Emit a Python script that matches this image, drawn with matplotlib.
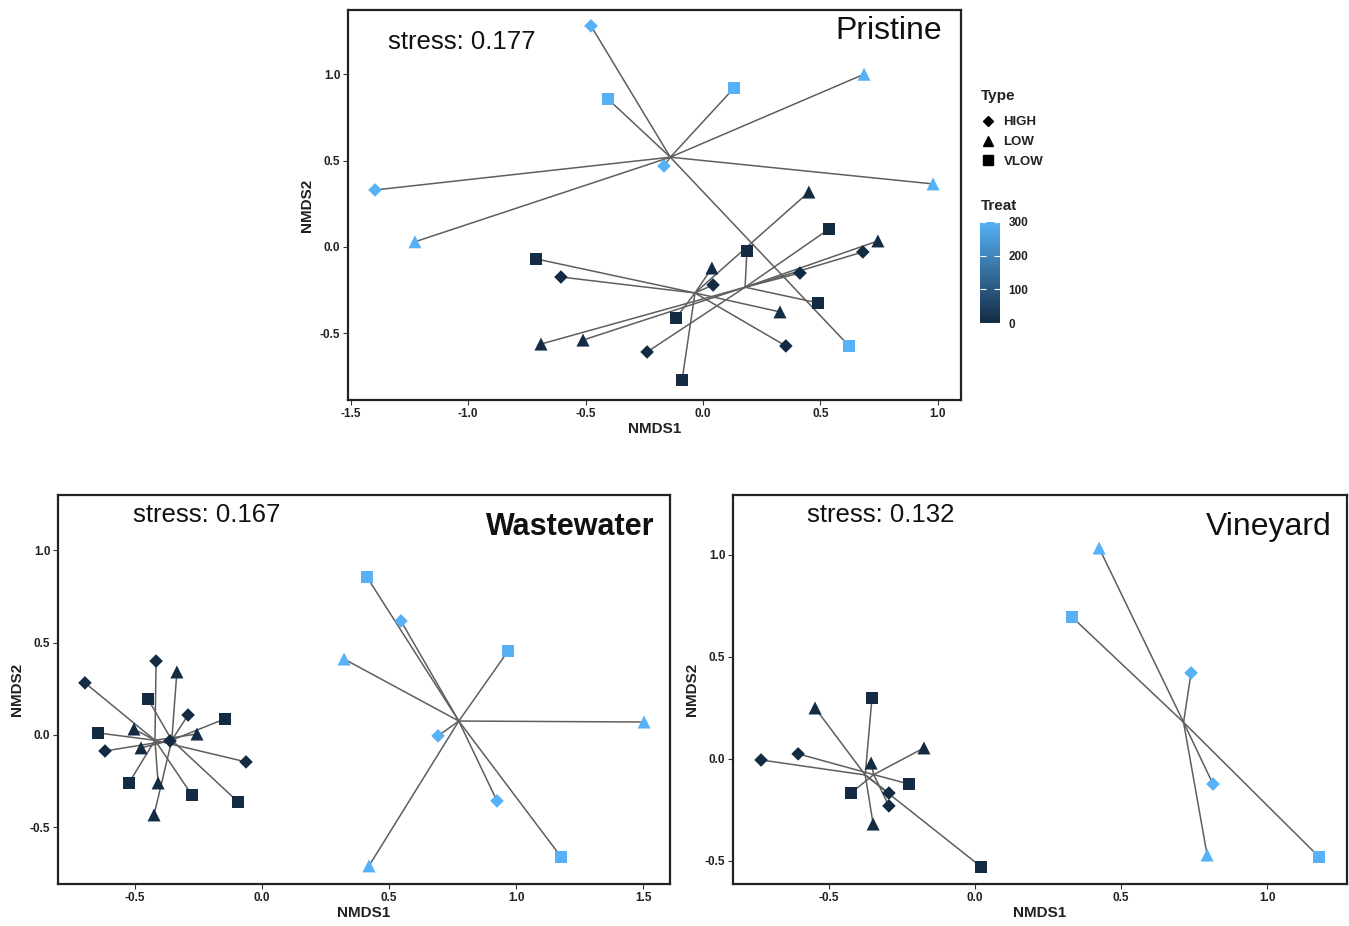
import numpy as np
import matplotlib
matplotlib.use("Agg")
import matplotlib.pyplot as plt
from matplotlib.colors import LinearSegmentedColormap, Normalize
from matplotlib.cm import ScalarMappable
from matplotlib.lines import Line2D

plt.rcParams['font.family'] = ['Liberation Sans', 'DejaVu Sans']

# ---- Pristine ----
pri_x = [-0.477, -0.166, -1.397, 0.686, -1.227, 0.980, -0.405, 0.132, 0.622,
         -0.711, -0.605, 0.451, -0.089, 0.353, -0.115, 0.043, 0.328, 0.038,
         0.187, 0.537, 0.490, 0.681, 0.413, -0.238, 0.745, -0.690, -0.511]
pri_y = [1.280, 0.469, 0.330, 1.000, 0.030, 0.365, 0.857, 0.920, -0.573,
         -0.069, -0.174, 0.318, -0.770, -0.573, -0.411, -0.220, -0.376, -0.122,
         -0.023, 0.104, -0.324, -0.029, -0.151, -0.608, 0.035, -0.562, -0.539]
pri_type = ['HIGH', 'HIGH', 'HIGH', 'LOW', 'LOW', 'LOW', 'VLOW', 'VLOW', 'VLOW',
            'VLOW', 'HIGH', 'LOW', 'VLOW', 'HIGH', 'VLOW', 'HIGH', 'LOW', 'LOW',
            'VLOW', 'VLOW', 'VLOW', 'HIGH', 'HIGH', 'HIGH', 'LOW', 'LOW', 'LOW']
pri_treat = [300] * 9 + [0] * 18
pri_grp = ['C'] * 9 + ['A'] * 9 + ['B'] * 9

# ---- Wastewater ----
ww_x = [0.547, 0.693, 0.925, 0.323, 1.504, 0.421, 0.413, 0.969, 1.177,
        -0.697, -0.417, -0.063, -0.504, -0.256, -0.409, -0.646, -0.524, -0.276,
        -0.291, -0.362, -0.618, -0.335, -0.476, -0.425, -0.449, -0.146, -0.094]
ww_y = [0.617, -0.005, -0.357, 0.411, 0.070, -0.709, 0.855, 0.455, -0.660,
        0.282, 0.400, -0.146, 0.032, 0.005, -0.260, 0.011, -0.260, -0.325,
        0.108, -0.032, -0.087, 0.341, -0.070, -0.433, 0.195, 0.087, -0.363]
ww_type = ['HIGH', 'HIGH', 'HIGH', 'LOW', 'LOW', 'LOW', 'VLOW', 'VLOW', 'VLOW'] * 3
ww_treat = [300] * 9 + [0] * 18
ww_grp = ['C'] * 9 + ['A'] * 9 + ['B'] * 9

# ---- Vineyard ----
vin_x = [0.740, 0.815, 0.425, 0.795, 0.332, 1.178,
         -0.733, -0.295, -0.548, -0.349, -0.353, 0.021,
         -0.606, -0.295, -0.175, -0.356, -0.226, -0.425]
vin_y = [0.422, -0.123, 1.034, -0.471, 0.696, -0.480,
         -0.005, -0.167, 0.250, -0.319, 0.299, -0.529,
         0.025, -0.230, 0.054, -0.020, -0.123, -0.167]
vin_type = ['HIGH', 'HIGH', 'LOW', 'LOW', 'VLOW', 'VLOW'] * 3
vin_treat = [300] * 6 + [0] * 12
vin_grp = ['C'] * 6 + ['A'] * 6 + ['B'] * 6

cmap = LinearSegmentedColormap.from_list('treat', ['#132B43', '#56B1F7'])
norm = Normalize(0, 300)
markers = {'HIGH': ('D', 48), 'LOW': ('^', 88), 'VLOW': ('s', 68)}


def nmds_panel(ax, x, y, typ, treat, grp, xlim, ylim, xticks, yticks,
               stress, site, site_weight, stress_xy, site_xy):
    x = np.array(x)
    y = np.array(y)
    typ = np.array(typ)
    treat = np.array(treat)
    grp = np.array(grp)
    for g in np.unique(grp):
        m = grp == g
        cx, cy = x[m].mean(), y[m].mean()
        for xi, yi in zip(x[m], y[m]):
            ax.plot([cx, xi], [cy, yi], color='#5e5e5e', lw=1.1, zorder=1)
    for t, (mk, s) in markers.items():
        m = typ == t
        ax.scatter(x[m], y[m], c=treat[m], cmap=cmap, norm=norm, marker=mk,
                   s=s, linewidths=0, zorder=2)
    ax.set_xlim(*xlim)
    ax.set_ylim(*ylim)
    ax.set_xticks(xticks)
    ax.set_yticks(yticks)
    ax.set_xticklabels(['%.1f' % v for v in xticks])
    ax.set_yticklabels(['%.1f' % v for v in yticks])
    ax.tick_params(labelsize=8.5, length=3.5, width=0.8, color='#333333', pad=2)
    for lab in ax.get_xticklabels() + ax.get_yticklabels():
        lab.set_fontweight('bold')
        lab.set_color('#222222')
    for sp in ax.spines.values():
        sp.set_linewidth(1.6)
        sp.set_color('#222222')
    ax.set_xlabel('NMDS1', fontsize=11, fontweight='bold', labelpad=2, color='#222222')
    ax.set_ylabel('NMDS2', fontsize=11, fontweight='bold', labelpad=4, color='#222222')
    ax.text(stress_xy[0], stress_xy[1], stress, transform=ax.transAxes,
            fontsize=18.5, ha='left', va='center', color='#111111')
    ax.text(site_xy[0], site_xy[1], site, transform=ax.transAxes,
            fontsize=23 if site_weight == 'normal' else 22, fontweight=site_weight,
            ha='right', va='center', color='#111111')


fig = plt.figure(figsize=(13.49, 9.26), dpi=100)

ax1 = fig.add_axes([348 / 1349, 1 - 400 / 926, 613 / 1349, 390 / 926])
nmds_panel(ax1, pri_x, pri_y, pri_type, pri_treat, pri_grp,
           (-1.512, 1.099), (-0.886, 1.372),
           [-1.5, -1.0, -0.5, 0.0, 0.5, 1.0], [-0.5, 0.0, 0.5, 1.0],
           'stress: 0.177', 'Pristine', 'normal', (0.065, 0.918), (0.969, 0.946))

ax2 = fig.add_axes([58 / 1349, 1 - 884 / 926, 612 / 1349, 389 / 926])
nmds_panel(ax2, ww_x, ww_y, ww_type, ww_treat, ww_grp,
           (-0.803, 1.606), (-0.807, 1.299),
           [-0.5, 0.0, 0.5, 1.0, 1.5], [-0.5, 0.0, 0.5, 1.0],
           'stress: 0.167', 'Wastewater', 'bold', (0.1225, 0.949), (0.974, 0.918))

ax3 = fig.add_axes([733 / 1349, 1 - 884 / 926, 614 / 1349, 389 / 926])
nmds_panel(ax3, vin_x, vin_y, vin_type, vin_treat, vin_grp,
           (-0.829, 1.274), (-0.613, 1.294),
           [-0.5, 0.0, 0.5, 1.0], [-0.5, 0.0, 0.5, 1.0],
           'stress: 0.132', 'Vineyard', 'normal', (0.1205, 0.949), (0.9756, 0.918))

# Type legend
fig.text(981 / 1349, 1 - 96 / 926, 'Type', fontsize=11, fontweight='bold',
         ha='left', va='center', color='#222222')
handles = [Line2D([], [], marker=markers[t][0], color='black', linestyle='',
                  markersize=np.sqrt(markers[t][1]) * 0.8) for t in markers]
leg = fig.legend(handles, list(markers), loc='upper left',
                 bbox_to_anchor=(981 / 1349, 1 - 116 / 926), frameon=False,
                 fontsize=9.5, labelspacing=0.58,
                 handletextpad=0.7, handlelength=1.0, borderaxespad=0,
                 borderpad=0)
for txt in leg.get_texts():
    txt.set_fontweight('bold')
    txt.set_color('#222222')

# Treat colourbar
fig.text(981 / 1349, 1 - 206 / 926, 'Treat', fontsize=11, fontweight='bold',
         ha='left', va='center', color='#222222')
cax = fig.add_axes([980 / 1349, 1 - 323 / 926, 20 / 1349, 101 / 926])
cb = fig.colorbar(ScalarMappable(norm=norm, cmap=cmap), cax=cax)
cb.outline.set_visible(False)
cb.set_ticks([0, 100, 200, 300])
cax.tick_params(left=True, right=True, labelleft=False, labelright=True,
                direction='in', color='white', length=4, width=0.8,
                labelsize=8.5, pad=6)
for lab in cax.get_yticklabels():
    lab.set_fontweight('bold')
    lab.set_color('#222222')

fig.savefig('out.png', dpi=100)
